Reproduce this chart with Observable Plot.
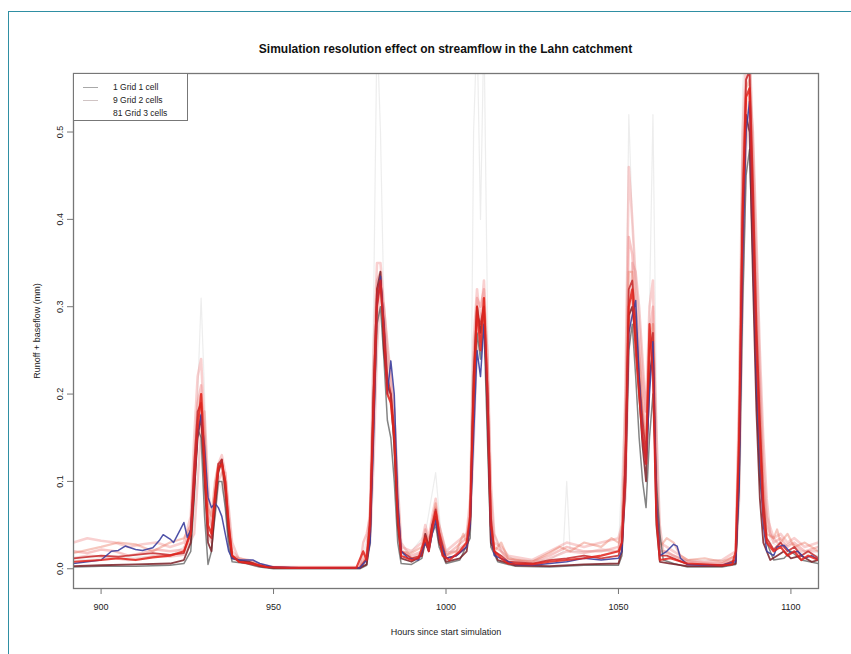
<!DOCTYPE html>
<html><head><meta charset="utf-8">
<script src="https://cdn.jsdelivr.net/npm/d3@7"></script>
<script src="https://cdn.jsdelivr.net/npm/@observablehq/plot@0.6"></script>
<style>
body{margin:0;background:#fff;font-family:"Liberation Sans",Arial,sans-serif;}
#wrap{position:relative;width:851px;height:654px;overflow:hidden;}
#frame{position:absolute;left:8px;top:11px;width:900px;height:700px;border:1.5px solid #2f8fa3;}
#title{position:absolute;top:42px;left:73px;width:745px;text-align:center;font-weight:bold;font-size:12px;color:#111;}
#chart{position:absolute;left:0;top:0;}
#legend{position:absolute;left:73px;top:73px;width:115px;height:48px;border:1.3px solid #777;background:#fff;box-sizing:border-box;font-size:8.5px;color:#222;}
.row{position:absolute;left:0;height:12px;width:115px;}
.row .ln{position:absolute;left:9px;width:15px;top:6px;height:0;border-top:1.2px solid #aaa;}
.row .tx{position:absolute;left:39px;top:0;line-height:12px;white-space:nowrap;}
</style>
</head><body>
<div id="wrap">
<div id="frame"></div>
<div id="title">Simulation resolution effect on streamflow in the Lahn catchment</div>
<div id="chart"></div>
<div id="legend"></div>
</div>
<script>
// ---- data (hour, runoff+baseflow mm) ----
const xTicks = [900, 950, 1000, 1050, 1100];
const yTicks = [0, 0.1, 0.2, 0.3, 0.4, 0.5];
const legendLabels = ["1 Grid 1 cell", "9 Grid 2 cells", "81 Grid 3 cells"];

const grid1 = [[892,0.006],[896,0.008],[900,0.01],[903,0.02],[905,0.021],[907,0.026],[910,0.022],[912,0.021],[915,0.024],[917,0.033],[918,0.039],[920,0.034],[921,0.03],[923,0.045],[924,0.053],[925,0.036],[926,0.045],[927,0.1],[928,0.155],[929,0.177],[930,0.14],[931,0.082],[932,0.07],[933,0.075],[934,0.07],[935,0.06],[936,0.04],[937,0.02],[938,0.012],[940,0.01],[944,0.01],[946,0.006],[950,0.002],[960,0.001],[975,0.001],[977,0.01],[978,0.03],[979,0.15],[980,0.3],[981,0.335],[982,0.28],[983,0.2],[984,0.238],[985,0.2],[986,0.08],[987,0.02],[989,0.012],[992,0.01],[994,0.03],[995,0.02],[996,0.04],[997,0.055],[998,0.035],[1000,0.012],[1003,0.015],[1006,0.025],[1007,0.05],[1008,0.15],[1009,0.25],[1010,0.22],[1011,0.28],[1012,0.2],[1013,0.04],[1014,0.015],[1017,0.01],[1020,0.005],[1025,0.004],[1030,0.006],[1035,0.008],[1040,0.012],[1045,0.01],[1050,0.012],[1051,0.02],[1052,0.1],[1053,0.27],[1054,0.29],[1055,0.307],[1056,0.22],[1057,0.15],[1058,0.12],[1059,0.2],[1060,0.26],[1061,0.08],[1062,0.015],[1064,0.02],[1066,0.028],[1067,0.026],[1068,0.012],[1070,0.005],[1075,0.004],[1080,0.004],[1084,0.008],[1085,0.1],[1086,0.35],[1087,0.5],[1088,0.535],[1089,0.38],[1090,0.22],[1091,0.12],[1092,0.05],[1093,0.02],[1095,0.015],[1096,0.025],[1098,0.027],[1100,0.018],[1102,0.02],[1104,0.012],[1106,0.015],[1108,0.01]];

const grid2a = [[892,0.003],[900,0.004],[910,0.005],[920,0.006],[924,0.01],[926,0.03],[927,0.09],[928,0.15],[929,0.175],[930,0.1],[931,0.03],[932,0.02],[933,0.07],[934,0.11],[935,0.125],[936,0.09],[937,0.04],[938,0.012],[940,0.01],[943,0.008],[946,0.003],[950,0.001],[975,0.001],[977,0.005],[978,0.04],[979,0.2],[980,0.32],[981,0.34],[982,0.25],[983,0.21],[984,0.2],[985,0.14],[986,0.05],[987,0.012],[990,0.008],[993,0.015],[994,0.04],[995,0.025],[996,0.05],[997,0.06],[998,0.03],[1000,0.008],[1004,0.012],[1006,0.02],[1007,0.05],[1008,0.22],[1009,0.3],[1010,0.27],[1011,0.3],[1012,0.18],[1013,0.03],[1015,0.01],[1020,0.004],[1030,0.003],[1040,0.005],[1050,0.006],[1051,0.02],[1052,0.12],[1053,0.29],[1054,0.3],[1055,0.26],[1056,0.2],[1057,0.14],[1058,0.1],[1059,0.22],[1060,0.25],[1061,0.05],[1062,0.008],[1065,0.006],[1070,0.003],[1080,0.003],[1084,0.006],[1085,0.12],[1086,0.38],[1087,0.52],[1088,0.5],[1089,0.33],[1090,0.18],[1091,0.08],[1092,0.03],[1094,0.01],[1096,0.015],[1098,0.02],[1100,0.012],[1103,0.015],[1106,0.008],[1108,0.01]];

const grid2b = [[892,0.002],[900,0.003],[910,0.003],[920,0.004],[924,0.006],[926,0.02],[927,0.08],[928,0.16],[929,0.15],[930,0.06],[931,0.005],[932,0.02],[933,0.06],[934,0.1],[935,0.1],[936,0.07],[937,0.025],[938,0.008],[942,0.006],[946,0.002],[950,0.0],[975,0.0],[977,0.004],[978,0.03],[979,0.16],[980,0.28],[981,0.3],[982,0.24],[983,0.17],[984,0.15],[985,0.1],[986,0.03],[987,0.006],[990,0.005],[993,0.012],[994,0.03],[995,0.02],[996,0.04],[997,0.05],[998,0.025],[1000,0.006],[1004,0.01],[1007,0.035],[1008,0.18],[1009,0.27],[1010,0.24],[1011,0.28],[1012,0.15],[1013,0.025],[1015,0.008],[1020,0.003],[1030,0.002],[1040,0.004],[1050,0.004],[1051,0.015],[1052,0.09],[1053,0.25],[1054,0.28],[1055,0.22],[1056,0.15],[1057,0.1],[1058,0.07],[1059,0.15],[1060,0.2],[1061,0.1],[1062,0.04],[1063,0.01],[1066,0.006],[1070,0.002],[1080,0.002],[1084,0.005],[1085,0.09],[1086,0.3],[1087,0.45],[1088,0.48],[1089,0.35],[1090,0.2],[1091,0.1],[1092,0.07],[1093,0.03],[1095,0.01],[1098,0.012],[1100,0.02],[1103,0.01],[1108,0.006]];

const grid3a = [[892,0.03],[896,0.035],[900,0.032],[904,0.03],[908,0.025],[912,0.028],[916,0.03],[920,0.025],[924,0.03],[926,0.06],[927,0.15],[928,0.22],[929,0.24],[930,0.16],[931,0.06],[932,0.05],[933,0.09],[934,0.12],[935,0.13],[936,0.11],[937,0.06],[938,0.02],[940,0.012],[945,0.006],[950,0.002],[975,0.002],[977,0.02],[978,0.07],[979,0.25],[980,0.35],[981,0.35],[982,0.3],[983,0.25],[984,0.22],[985,0.18],[986,0.08],[987,0.025],[990,0.02],[993,0.03],[994,0.05],[995,0.035],[996,0.06],[997,0.08],[998,0.05],[1000,0.02],[1003,0.03],[1006,0.04],[1007,0.08],[1008,0.26],[1009,0.32],[1010,0.28],[1011,0.33],[1012,0.24],[1013,0.08],[1014,0.03],[1016,0.025],[1018,0.015],[1025,0.01],[1030,0.02],[1035,0.03],[1040,0.025],[1045,0.03],[1050,0.035],[1051,0.05],[1052,0.2],[1053,0.46],[1054,0.4],[1055,0.33],[1056,0.28],[1057,0.22],[1058,0.18],[1059,0.3],[1060,0.33],[1061,0.12],[1062,0.03],[1064,0.025],[1066,0.02],[1070,0.01],[1075,0.008],[1080,0.01],[1084,0.02],[1085,0.2],[1086,0.5],[1087,0.58],[1088,0.6],[1089,0.48],[1090,0.35],[1091,0.22],[1092,0.12],[1093,0.06],[1095,0.035],[1097,0.04],[1099,0.03],[1101,0.035],[1104,0.025],[1108,0.03]];

const grid3b = [[892,0.02],[896,0.018],[900,0.022],[904,0.02],[908,0.015],[912,0.018],[916,0.022],[920,0.02],[924,0.022],[926,0.05],[927,0.12],[928,0.19],[929,0.21],[930,0.14],[931,0.04],[932,0.03],[933,0.08],[934,0.12],[935,0.12],[936,0.09],[937,0.04],[938,0.015],[940,0.01],[945,0.004],[950,0.001],[975,0.001],[976,0.03],[977,0.04],[978,0.06],[979,0.22],[980,0.33],[981,0.34],[982,0.29],[983,0.22],[984,0.2],[985,0.16],[986,0.07],[987,0.02],[990,0.015],[993,0.02],[994,0.045],[995,0.03],[996,0.055],[997,0.07],[998,0.045],[1000,0.015],[1003,0.025],[1006,0.035],[1007,0.07],[1008,0.24],[1009,0.31],[1010,0.3],[1011,0.32],[1012,0.22],[1013,0.06],[1014,0.025],[1016,0.02],[1018,0.01],[1025,0.008],[1030,0.015],[1035,0.025],[1040,0.02],[1045,0.02],[1050,0.025],[1051,0.04],[1052,0.16],[1053,0.38],[1054,0.36],[1055,0.3],[1056,0.25],[1057,0.2],[1058,0.15],[1059,0.27],[1060,0.3],[1061,0.09],[1062,0.02],[1064,0.02],[1066,0.015],[1070,0.008],[1075,0.006],[1080,0.006],[1084,0.015],[1085,0.18],[1086,0.46],[1087,0.56],[1088,0.57],[1089,0.45],[1090,0.3],[1091,0.2],[1092,0.1],[1093,0.05],[1095,0.03],[1097,0.035],[1099,0.025],[1101,0.03],[1104,0.02],[1108,0.025]];

const grid3c = [[892,0.012],[896,0.015],[900,0.014],[904,0.012],[908,0.01],[912,0.012],[916,0.015],[920,0.014],[924,0.016],[927,0.04],[928,0.1],[929,0.16],[930,0.18],[931,0.1],[932,0.04],[933,0.06],[934,0.1],[935,0.11],[936,0.11],[937,0.07],[938,0.03],[940,0.01],[945,0.003],[950,0.001],[975,0.001],[977,0.01],[978,0.03],[979,0.12],[980,0.25],[981,0.32],[982,0.3],[983,0.26],[984,0.22],[985,0.18],[986,0.1],[987,0.03],[990,0.012],[993,0.018],[994,0.03],[995,0.025],[996,0.045],[997,0.06],[998,0.05],[1000,0.018],[1003,0.02],[1006,0.03],[1007,0.05],[1008,0.14],[1009,0.26],[1010,0.29],[1011,0.3],[1012,0.25],[1013,0.1],[1014,0.04],[1016,0.02],[1018,0.012],[1025,0.006],[1030,0.012],[1035,0.02],[1040,0.018],[1045,0.022],[1050,0.02],[1052,0.08],[1053,0.25],[1054,0.35],[1055,0.34],[1056,0.3],[1057,0.24],[1058,0.18],[1059,0.22],[1060,0.28],[1061,0.16],[1062,0.05],[1063,0.02],[1066,0.015],[1070,0.008],[1080,0.006],[1084,0.01],[1085,0.08],[1086,0.3],[1087,0.48],[1088,0.55],[1089,0.5],[1090,0.38],[1091,0.25],[1092,0.15],[1093,0.08],[1094,0.04],[1096,0.03],[1098,0.025],[1100,0.03],[1103,0.02],[1108,0.02]];

const grid3d = [[892,0.018],[900,0.025],[905,0.03],[910,0.028],[915,0.02],[920,0.03],[924,0.035],[926,0.05],[927,0.1],[928,0.17],[929,0.2],[930,0.15],[931,0.07],[932,0.06],[933,0.1],[934,0.12],[935,0.115],[936,0.08],[937,0.035],[938,0.015],[940,0.012],[943,0.01],[946,0.004],[950,0.001],[975,0.001],[977,0.015],[978,0.05],[979,0.2],[980,0.31],[981,0.33],[982,0.27],[983,0.21],[984,0.19],[985,0.15],[986,0.06],[987,0.02],[990,0.018],[993,0.025],[994,0.04],[995,0.03],[996,0.05],[997,0.075],[998,0.04],[1000,0.015],[1003,0.02],[1005,0.04],[1006,0.03],[1007,0.06],[1008,0.22],[1009,0.3],[1010,0.26],[1011,0.31],[1012,0.2],[1013,0.05],[1014,0.02],[1016,0.03],[1018,0.012],[1025,0.008],[1030,0.018],[1033,0.025],[1036,0.02],[1040,0.03],[1045,0.025],[1048,0.035],[1050,0.03],[1051,0.045],[1052,0.14],[1053,0.34],[1054,0.34],[1055,0.28],[1056,0.24],[1057,0.18],[1058,0.14],[1059,0.26],[1060,0.28],[1061,0.07],[1062,0.025],[1064,0.035],[1066,0.03],[1068,0.015],[1070,0.01],[1075,0.012],[1080,0.008],[1084,0.015],[1085,0.16],[1086,0.42],[1087,0.55],[1088,0.56],[1089,0.42],[1090,0.28],[1091,0.18],[1092,0.09],[1093,0.04],[1095,0.035],[1096,0.045],[1097,0.03],[1099,0.04],[1101,0.025],[1104,0.03],[1108,0.02]];

const grid3e = [[892,0.008],[900,0.01],[905,0.012],[910,0.01],[915,0.013],[920,0.015],[924,0.02],[926,0.04],[927,0.1],[928,0.16],[929,0.2],[930,0.12],[931,0.05],[932,0.04],[933,0.08],[934,0.115],[935,0.12],[936,0.1],[937,0.05],[938,0.015],[940,0.008],[944,0.006],[948,0.002],[955,0.001],[974,0.001],[976,0.02],[977,0.01],[978,0.05],[979,0.18],[980,0.3],[981,0.33],[982,0.27],[983,0.2],[984,0.19],[985,0.15],[986,0.06],[987,0.015],[990,0.01],[992,0.012],[994,0.035],[995,0.02],[996,0.045],[997,0.065],[998,0.04],[999,0.015],[1001,0.01],[1004,0.02],[1006,0.03],[1007,0.06],[1008,0.2],[1009,0.3],[1010,0.25],[1011,0.31],[1012,0.2],[1013,0.05],[1014,0.02],[1016,0.012],[1018,0.006],[1025,0.005],[1030,0.008],[1035,0.01],[1040,0.012],[1045,0.015],[1050,0.02],[1051,0.03],[1052,0.1],[1053,0.3],[1054,0.32],[1055,0.25],[1056,0.2],[1057,0.15],[1058,0.12],[1059,0.28],[1060,0.22],[1061,0.06],[1062,0.01],[1065,0.012],[1070,0.006],[1080,0.004],[1083,0.005],[1084,0.02],[1085,0.15],[1086,0.4],[1087,0.54],[1088,0.55],[1089,0.4],[1090,0.25],[1091,0.15],[1092,0.06],[1093,0.03],[1095,0.02],[1097,0.025],[1099,0.015],[1101,0.02],[1103,0.01],[1105,0.015],[1108,0.01]];

const grid3f = [[892,0.012],[900,0.015],[905,0.014],[910,0.016],[915,0.018],[920,0.016],[924,0.018],[926,0.045],[927,0.12],[928,0.18],[929,0.19],[930,0.11],[931,0.04],[932,0.035],[933,0.085],[934,0.12],[935,0.125],[936,0.1],[937,0.05],[938,0.015],[940,0.008],[944,0.005],[948,0.002],[955,0.001],[975,0.001],[977,0.012],[978,0.06],[979,0.2],[980,0.32],[981,0.33],[982,0.28],[983,0.22],[984,0.2],[985,0.16],[986,0.07],[987,0.02],[990,0.012],[993,0.015],[994,0.038],[995,0.025],[996,0.05],[997,0.068],[998,0.042],[1000,0.012],[1003,0.015],[1006,0.025],[1007,0.055],[1008,0.2],[1009,0.29],[1010,0.28],[1011,0.3],[1012,0.21],[1013,0.06],[1014,0.02],[1016,0.015],[1018,0.008],[1025,0.006],[1030,0.01],[1035,0.012],[1040,0.015],[1045,0.012],[1050,0.015],[1051,0.03],[1052,0.12],[1053,0.32],[1054,0.33],[1055,0.28],[1056,0.22],[1057,0.17],[1058,0.13],[1059,0.25],[1060,0.27],[1061,0.07],[1062,0.015],[1064,0.015],[1066,0.012],[1070,0.005],[1080,0.004],[1084,0.01],[1085,0.14],[1086,0.42],[1087,0.56],[1088,0.57],[1089,0.44],[1090,0.28],[1091,0.17],[1092,0.08],[1093,0.035],[1095,0.022],[1097,0.03],[1099,0.02],[1101,0.025],[1103,0.015],[1105,0.02],[1108,0.012]];

const grid3g = [[892,0.01],[920,0.015],[926,0.03],[928,0.2],[929,0.31],[930,0.2],[931,0.05],[934,0.1],[936,0.08],[938,0.01],[950,0.001],[975,0.001],[978,0.05],[979,0.3],[980,0.62],[981,0.5],[982,0.3],[984,0.2],[986,0.05],[988,0.01],[994,0.04],[997,0.11],[999,0.02],[1003,0.02],[1007,0.05],[1008,0.5],[1009,0.62],[1010,0.4],[1011,0.62],[1012,0.3],[1013,0.05],[1016,0.02],[1020,0.01],[1030,0.01],[1034,0.02],[1035,0.1],[1036,0.02],[1040,0.02],[1050,0.02],[1052,0.2],[1053,0.52],[1054,0.4],[1056,0.25],[1058,0.12],[1059,0.3],[1060,0.52],[1061,0.2],[1062,0.02],[1070,0.01],[1084,0.01],[1085,0.2],[1086,0.55],[1087,0.62],[1088,0.62],[1089,0.5],[1090,0.3],[1092,0.1],[1094,0.03],[1100,0.02],[1108,0.015]];

// ---- styles ----
const layers = [
  {data: grid3g, stroke: "#c4c4c4", w: 1.2, o: 0.3},
  {data: grid3a, stroke: "#f08a8a", w: 2.6, o: 0.4},
  {data: grid3b, stroke: "#ee7070", w: 2.4, o: 0.4},
  {data: grid3c, stroke: "#e89090", w: 2.4, o: 0.45},
  {data: grid3d, stroke: "#e8705a", w: 2.2, o: 0.4},
  {data: grid2b, stroke: "#505050", w: 1.5, o: 0.7},
  {data: grid2a, stroke: "#7a1e26", w: 1.8, o: 0.85},
  {data: grid3f, stroke: "#c4282a", w: 1.8, o: 0.85},
  {data: grid1,  stroke: "#3c3f9e", w: 1.5, o: 0.9},
  {data: grid3e, stroke: "#e2231c", w: 2.2, o: 0.85}
];

const plot = Plot.plot({
  width: 851, height: 654,
  marginLeft: 73, marginRight: 33, marginTop: 73, marginBottom: 66,
  x: {domain: [892, 1108]},
  y: {domain: [-0.0226, 0.567]},
  style: {fontFamily: "'Liberation Sans', Arial, sans-serif", fontSize: "9px", background: "transparent", color: "#222"},
  marks: [
    ...layers.map(l => Plot.line(l.data, {x: d => d[0], y: d => d[1], stroke: l.stroke, strokeWidth: l.w, strokeOpacity: l.o, clip: true})),
    Plot.frame({stroke: "#767676", strokeWidth: 1.3}),
    Plot.axisX({ticks: xTicks, tickFormat: d3.format("d"), tickSize: 6, tickPadding: 9, stroke: "#767676", label: "Hours since start simulation", labelAnchor: "center", labelArrow: "none", labelOffset: 46}),
    Plot.axisY({ticks: yTicks, tickFormat: d3.format(".1f"), tickSize: 6, tickPadding: 5, tickRotate: -90, stroke: "#767676", label: "Runoff + baseflow (mm)", labelAnchor: "center", labelArrow: "none", labelOffset: 40})
  ]
});
document.getElementById("chart").appendChild(plot);

// legend
const lg = document.getElementById("legend");
const lineColors = ["#a8a8a8", "#d0c4c4", "transparent"];
const rowTops = [6.5, 19.5, 32.5];
legendLabels.forEach((t, i) => {
  const r = document.createElement("div");
  r.className = "row";
  r.style.top = rowTops[i] + "px";
  r.innerHTML = `<div class="ln" style="border-top-color:${lineColors[i]}"></div><div class="tx">${t}</div>`;
  lg.appendChild(r);
});
</script>
</body></html>
